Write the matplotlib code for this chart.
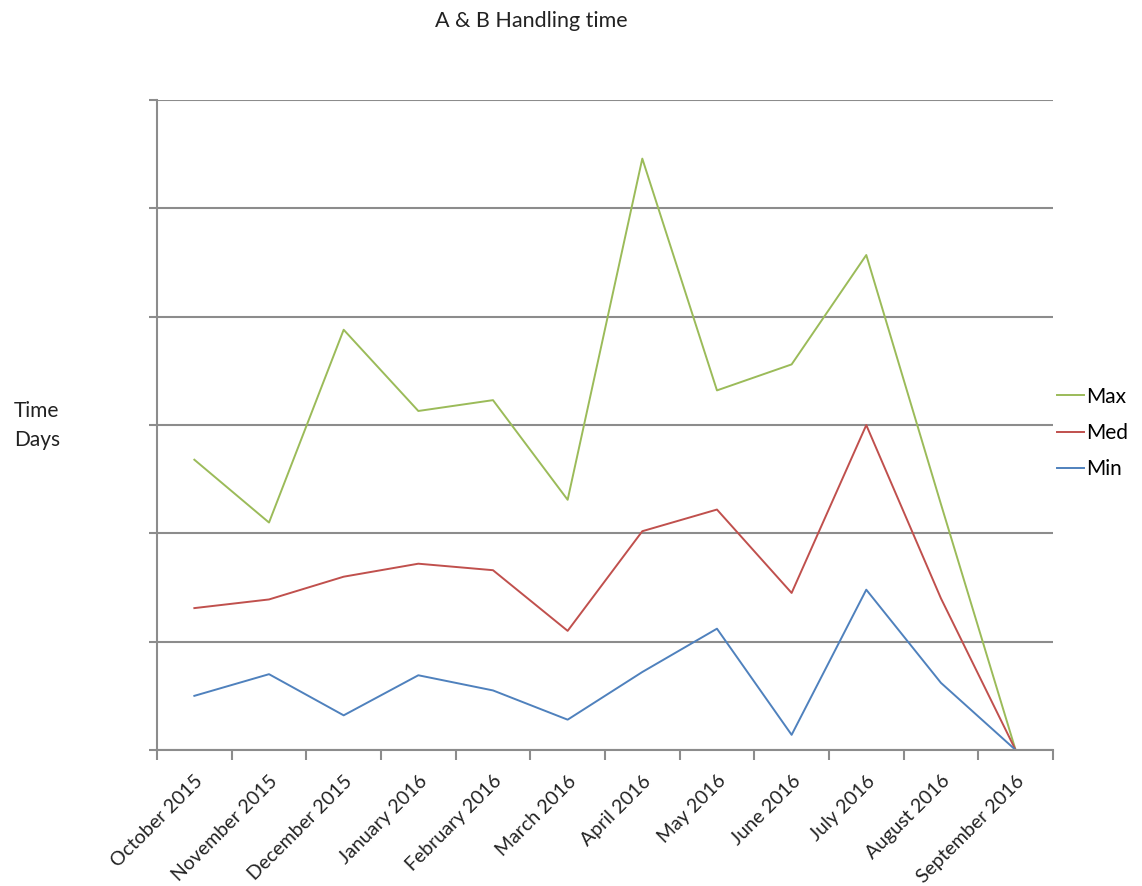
#!/usr/bin/env python3
"""A & B handling time per month: max / median / min, in days."""
import matplotlib
matplotlib.use("Agg")
import matplotlib.pyplot as plt
import numpy as np

plt.rcParams["font.family"] = ["Lato", "DejaVu Sans"]

MONTHS = ["October 2015", "November 2015", "December 2015", "January 2016",
          "February 2016", "March 2016", "April 2016", "May 2016",
          "June 2016", "July 2016", "August 2016", "September 2016"]

MAX_DAYS = [2.68, 2.10, 3.88, 3.13, 3.23, 2.31, 5.46, 3.32, 3.56, 4.57, 2.27, 0.0]
MED_DAYS = [1.31, 1.39, 1.60, 1.72, 1.66, 1.10, 2.02, 2.22, 1.45, 3.00, 1.40, 0.0]
MIN_DAYS = [0.50, 0.70, 0.32, 0.69, 0.55, 0.28, 0.72, 1.12, 0.14, 1.48, 0.62, 0.0]

GRID = "#8c8c8c"
TEXT = "#222222"


def main():
    fig = plt.figure(figsize=(11.42, 8.86), dpi=100)
    ax = fig.add_axes([0.1375, 0.1535, 0.7845, 0.7335])

    x = np.arange(len(MONTHS)) + 0.5
    ax.plot(x, MAX_DAYS, color="#9BBB59", lw=1.4, label="Max")
    ax.plot(x, MED_DAYS, color="#C0504D", lw=1.4, label="Med")
    ax.plot(x, MIN_DAYS, color="#4F81BD", lw=1.4, label="Min")

    ax.set_xlim(0, len(MONTHS))
    ax.set_ylim(0, 6)

    # category boundaries carry the tick marks, centres carry the labels
    ax.set_xticks(np.arange(len(MONTHS) + 1))
    ax.set_xticklabels([])
    ax.set_xticks(x, minor=True)
    ax.set_xticklabels(MONTHS, minor=True, rotation=45, ha="right",
                       va="top", rotation_mode="anchor", fontsize=14,
                       color=TEXT)
    ax.tick_params(axis="x", which="major", length=7, width=1.5, color=GRID)
    ax.tick_params(axis="x", which="minor", length=0, pad=16)

    ax.set_yticks(np.arange(0, 7))
    ax.set_yticklabels([])
    ax.tick_params(axis="y", length=6, width=1.5, color=GRID)
    ax.yaxis.grid(True, color=GRID, lw=1.5)
    ax.set_axisbelow(True)

    for side in ("top", "right"):
        ax.spines[side].set_visible(False)
    for side in ("left", "bottom"):
        ax.spines[side].set_color(GRID)
        ax.spines[side].set_linewidth(1.5)

    fig.text(0.465, 0.976, "A & B Handling time", ha="center", va="center",
             fontsize=15.5, color=TEXT)
    fig.text(0.012, 0.52, "Time\nDays", ha="left", va="center",
             fontsize=15, color=TEXT, linespacing=1.55)

    ax.legend(loc="center left", bbox_to_anchor=(1.0, 0.488), frameon=False,
              borderaxespad=0.0, borderpad=0.2, fontsize=15, handlelength=1.3,
              handletextpad=0.1, labelspacing=0.78)

    fig.savefig("out.png", dpi=100)


if __name__ == "__main__":
    main()
